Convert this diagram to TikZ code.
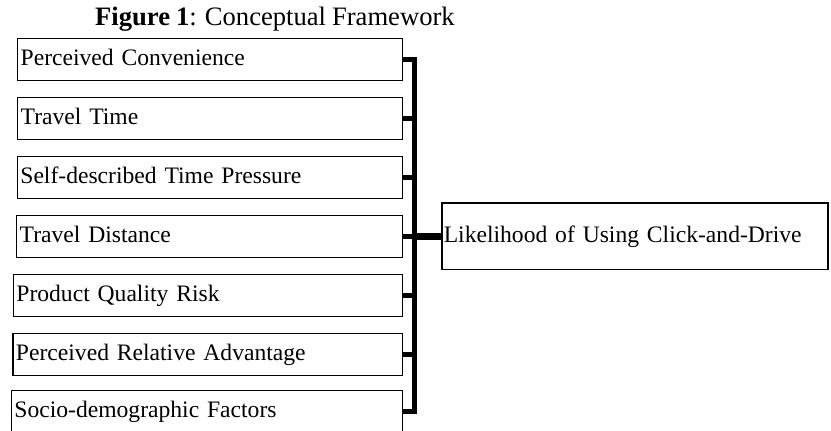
\documentclass[tikz,border=0pt]{standalone}
\usepackage{fontspec}
\setmainfont[WordSpace=0.9]{Liberation Serif}
\begin{document}
\begin{tikzpicture}[x=1pt,y=-1pt,
  factor/.style={draw, line width=1.4pt, rectangle, anchor=north west,
    inner xsep=3pt, inner ysep=0pt, text height=27pt, text depth=15pt,
    align=left, font=\fontsize{23.6}{28}\selectfont},
  outcome/.style={draw, line width=1.6pt, rectangle, anchor=north west,
    inner xsep=2pt, inner ysep=0pt, text height=39.7pt, text depth=26.8pt,
    align=left, font=\fontsize{23.6}{28}\selectfont},
  bus/.style={line width=5pt, line join=miter},
  feed/.style={line width=7pt}]
\useasboundingbox (0,0) rectangle (831,431);

% title
\node[anchor=base west, inner sep=0pt, font=\fontsize{26.6}{30}\selectfont]
  (title) at (95,25) {\textbf{Figure 1}: Conceptual Framework};

% factor boxes (left edge varies, right edge shared)
\node[factor, text width=378.5pt] (b1) at (17,38)   {Perceived Convenience};
\node[factor, text width=378.5pt] (b2) at (17,96.5) {Travel Time};
\node[factor, text width=378.8pt] (b3) at (16.7,156) {Self-described Time Pressure};
\node[factor, text width=379.5pt] (b4) at (16,215)  {Travel Distance};
\node[factor, text width=382.8pt] (b5) at (12.7,274) {Product Quality Risk};
\node[factor, text width=383.2pt] (b6) at (12.3,333) {Perceived Relative Advantage};
\node[factor, text width=384.8pt] (b7) at (10.7,390) {Socio-demographic Factors};

% outcome box
\node[outcome, text width=382pt] (out) at (441,202) {Likelihood of Using Click-and-Drive};

% collecting bar
\coordinate (bar) at (414.5,0);
\draw[bus] (b1.east) -- (b1.east -| bar) -- (b7.east -| bar) -- (b7.east);
\foreach \b in {b2,b3,b4,b5,b6}
  \draw[bus] (\b.east) -- (\b.east -| bar);
\draw[feed] (bar |- out.west) -- (out.west);
\end{tikzpicture}
\end{document}
